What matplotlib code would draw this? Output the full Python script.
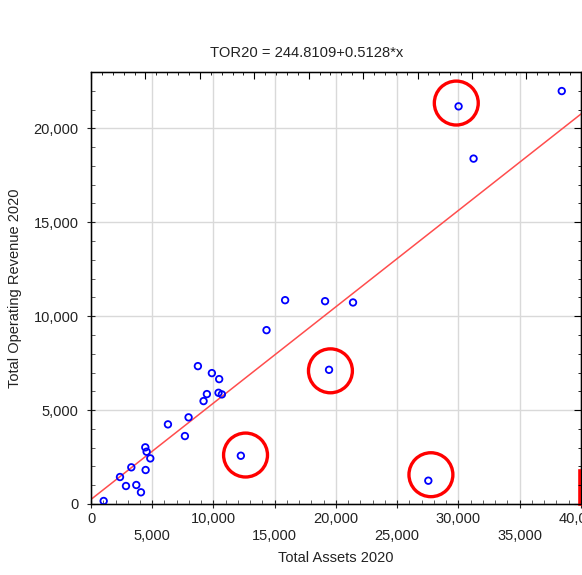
import matplotlib
matplotlib.use("Agg")
import matplotlib.pyplot as plt
from matplotlib.ticker import MultipleLocator

plt.rcParams["font.family"] = ["Liberation Sans", "DejaVu Sans"]
plt.rcParams["font.size"] = 10.5

# Data
total_assets = [1033, 2366, 2855, 3290, 3697, 4078, 4432, 4459, 4541, 4840,
                6281, 7667, 7966, 8728, 9190, 9462, 9869, 10412, 10465, 10685,
                12235, 14331, 15850, 19112, 19437, 21395, 27545, 30016,
                31240, 38442]
total_revenue = [160, 1436, 957, 1952, 1011, 622, 3016, 1809, 2782, 2428,
                 4239, 3617, 4612, 7340, 5479, 5851, 6968, 5920, 6649, 5835,
                 2569, 9255, 10851, 10798, 7144, 10729, 1240, 21170,
                 18388, 21985]

intercept = 244.8109
slope = 0.5128

# highlighted points (red rings)
ring_x = [29829, 19551, 27757, 12618]
ring_y = [21346, 7090, 1559, 2606]

x_ticks = [0, 5000, 10000, 15000, 20000, 25000, 30000, 35000, 40000]
x_labels = ["0", "\n5,000", "10,000", "\n15,000", "20,000", "\n25,000",
            "30,000", "\n35,000", "40,000"]
y_ticks = [0, 5000, 10000, 15000, 20000]
y_labels = ["0", "5,000", "10,000", "15,000", "20,000"]

fig = plt.figure(figsize=(5.82, 5.75), dpi=100)
ax = fig.add_axes([0.1564, 0.1235, 0.8416, 0.7513])

ax.grid(True, color="#d9d9d9", linewidth=1)
ax.set_axisbelow(True)

ax.scatter(total_assets, total_revenue, s=22, facecolors="none",
           edgecolors="#0000ff", linewidths=1.3, zorder=3)

line_x = [0, 40000]
line_y = [intercept + slope * v for v in line_x]
ax.plot(line_x, line_y, color="#ff4d4d", linewidth=1.1, zorder=2)

ax.scatter(ring_x, ring_y, s=1000, facecolors="none", edgecolors="red",
           linewidths=2.4, zorder=4, clip_on=False)
# edge of a red box that runs off the right side
ax.plot([39960, 39960, 43000], [0, 1755, 1755], color="red", linewidth=2.6,
        solid_joinstyle="miter", clip_on=False, zorder=4)

ax.set_xlim(0, 40000)
ax.set_ylim(0, 23000)
ax.set_xticks(x_ticks)
ax.set_xticklabels(x_labels)
ax.set_yticks(y_ticks)
ax.set_yticklabels(y_labels)
ax.xaxis.set_minor_locator(MultipleLocator(1000))
ax.yaxis.set_minor_locator(MultipleLocator(1000))
ax.tick_params(which="major", direction="inout", length=6, width=0.8,
               colors="#222222", labelcolor="#222222")
ax.tick_params(which="minor", direction="in", length=3, width=0.6,
               colors="#444444")
ax.tick_params(axis="x", which="major", pad=3)
ax.tick_params(axis="y", which="major", pad=6)
for sp in ax.spines.values():
    sp.set_linewidth(1)
    sp.set_color("#222222")

# top and right axes with their own ticks
top = ax.twiny()
top.set_xlim(0, 45000)
top.xaxis.set_major_locator(MultipleLocator(5000))
top.xaxis.set_minor_locator(MultipleLocator(1000))
top.tick_params(which="both", direction="in", labeltop=False)
top.tick_params(which="major", length=5)
top.tick_params(which="minor", length=2.5)
right = ax.twinx()
right.set_ylim(0, 23000)
right.yaxis.set_major_locator(MultipleLocator(5000))
right.yaxis.set_minor_locator(MultipleLocator(1000))
right.tick_params(which="both", direction="in", labelright=False)
right.tick_params(which="major", length=5)
right.tick_params(which="minor", length=2.5)

fig.text(0.526, 1 - 53 / 575, "TOR20 = 244.8109+0.5128*x", fontsize=10.6,
         color="#222222", ha="center", va="center")
ax.set_xlabel("Total Assets 2020", color="#222222", labelpad=6)
ax.set_ylabel("Total Operating Revenue 2020", color="#222222", labelpad=8)

fig.savefig("out.png", dpi=100)
